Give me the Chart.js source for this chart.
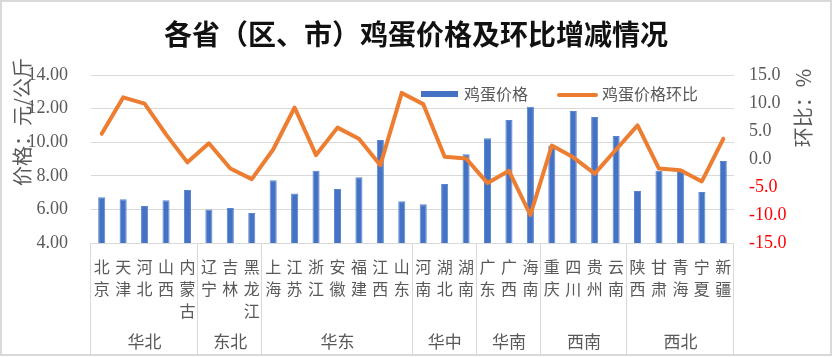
<!DOCTYPE html>
<html>
<head>
<meta charset="utf-8">
<script src="https://cdn.jsdelivr.net/npm/chart.js@4/dist/chart.umd.min.js"></script>
<style>
html,body{margin:0;padding:0;background:#fff;}
#wrap{width:833px;height:357px;}
</style>
</head>
<body>
<div id="wrap"><canvas id="c" width="833" height="357"></canvas></div>
<script>
const chartTitle = '各省（区、市）鸡蛋价格及环比增减情况';
const provinces = ['北京','天津','河北','山西','内蒙古','辽宁','吉林','黑龙江','上海','江苏','浙江','安徽','福建','江西','山东','河南','湖北','湖南','广东','广西','海南','重庆','四川','贵州','云南','陕西','甘肃','青海','宁夏','新疆'];
const regions = ['华北','东北','华东','华中','华南','西南','西北'];
const regionSizes = [5,3,7,3,3,4,5];
const eggPrice = [6.72,6.60,6.20,6.54,7.15,6.00,6.08,5.79,7.73,6.94,8.30,7.21,7.91,10.13,6.48,6.30,7.51,9.28,10.23,11.32,12.11,9.79,11.86,11.50,10.37,7.10,8.30,8.38,7.04,8.88];
const momChange = [4.5,11.0,9.9,4.4,-0.6,2.8,-1.7,-3.6,1.7,9.2,0.7,5.6,3.6,-1.1,11.8,9.8,0.4,0.1,-4.3,-2.1,-10.0,2.4,0.3,-2.6,1.7,6.0,-1.7,-2.0,-4.0,3.6];
const seriesNames = ['鸡蛋价格','鸡蛋价格环比'];
const leftAxisTitle = '价格：元/公斤';
const rightAxisTitle = '环比：%';

const CJK = '"Noto Sans CJK SC", "Noto Sans", sans-serif';
const NUM = '"Liberation Serif", serif';
const TXT = '#595959';
const BAR = '#4472C4';
const LINE = '#ED7D31';
const GRID = '#d9d9d9';

const deco = {
  id: 'deco',
  afterDatasetsDraw(chart) {
    const ctx = chart.ctx;
    const ca = chart.chartArea;
    const xs = chart.scales.x;
    ctx.save();
    // bottom axis line
    ctx.strokeStyle = GRID; ctx.lineWidth = 1;
    ctx.beginPath(); ctx.moveTo(ca.left, ca.bottom + 0.5); ctx.lineTo(ca.right, ca.bottom + 0.5); ctx.stroke();
    // group separators
    const bounds = [ca.left];
    let idx = 0;
    regionSizes.forEach(n => { idx += n; bounds.push(idx >= provinces.length ? ca.right : (xs.getPixelForValue(idx - 1) + xs.getPixelForValue(idx)) / 2); });
    ctx.beginPath();
    bounds.forEach(b => { const x = Math.round(b) - 0.5; ctx.moveTo(x, ca.bottom); ctx.lineTo(x, 355); });
    ctx.stroke();
    // group labels
    ctx.fillStyle = TXT; ctx.font = '17px ' + CJK; ctx.textAlign = 'center'; ctx.textBaseline = 'middle';
    regions.forEach((r, i) => { ctx.fillText(r, (bounds[i] + bounds[i + 1]) / 2, 342); });
    // title
    ctx.fillStyle = '#111'; ctx.font = 'bold 28px ' + CJK; ctx.textAlign = 'center';
    ctx.fillText(chartTitle, 416, 34);
    // axis titles
    ctx.fillStyle = TXT; ctx.font = '20px ' + CJK;
    ctx.save(); ctx.translate(22, 122); ctx.rotate(-Math.PI / 2); ctx.fillText(leftAxisTitle, 0, 0); ctx.restore();
    ctx.save(); ctx.translate(803, 108); ctx.rotate(-Math.PI / 2); ctx.fillText(rightAxisTitle, 0, 0); ctx.restore();
    // legend
    ctx.font = '16px ' + CJK; ctx.textAlign = 'left'; ctx.textBaseline = 'middle';
    ctx.fillStyle = BAR; ctx.fillRect(421, 91, 37, 6);
    ctx.fillStyle = TXT; ctx.fillText(seriesNames[0], 464, 94);
    ctx.strokeStyle = LINE; ctx.lineWidth = 4; ctx.lineCap = 'round';
    ctx.beginPath(); ctx.moveTo(559, 95); ctx.lineTo(596, 95); ctx.stroke();
    ctx.fillText(seriesNames[1], 602, 94);
    // outer border
    ctx.strokeStyle = GRID; ctx.lineWidth = 2; ctx.lineCap = 'butt';
    ctx.strokeRect(1, 1, 830, 354);
    ctx.restore();
  }
};

new Chart(document.getElementById('c'), {
  type: 'bar',
  data: {
    labels: provinces.map(p => p.split('')),
    datasets: [
      { type: 'line', label: seriesNames[1], data: momChange, yAxisID: 'y1', order: 0,
        borderColor: LINE, backgroundColor: LINE, borderWidth: 4, pointRadius: 0, tension: 0,
        borderJoinStyle: 'round', borderCapStyle: 'round', fill: false },
      { type: 'bar', label: seriesNames[0], data: eggPrice, yAxisID: 'y', order: 1,
        backgroundColor: BAR, borderColor: '#5a86cf', borderWidth: 1,
        categoryPercentage: 1, barPercentage: 0.33 }
    ]
  },
  options: {
    responsive: false, animation: false, devicePixelRatio: 1,
    layout: { padding: { top: 75, bottom: 0, left: 0, right: 0 } },
    plugins: { legend: { display: false }, title: { display: false }, tooltip: { enabled: false } },
    scales: {
      x: {
        grid: { display: false, drawTicks: false }, border: { display: false },
        ticks: { autoSkip: false, maxRotation: 0, minRotation: 0, padding: 13, color: TXT,
                 font: { family: CJK, size: 16, lineHeight: 1.375 } },
        afterFit(s) { s.height = 114; }
      },
      y: {
        position: 'left', min: 4, max: 14,
        grid: { color: GRID, lineWidth: 1, drawTicks: false }, border: { display: false },
        ticks: { stepSize: 2, padding: 23, color: TXT, font: { family: NUM, size: 18 },
                 callback: v => Number(v).toFixed(2) },
        afterFit(s) { s.width = 91; }
      },
      y1: {
        position: 'right', min: -15, max: 15,
        grid: { display: false, drawTicks: false }, border: { display: false },
        ticks: { stepSize: 5, padding: 15, font: { family: NUM, size: 18 },
                 color: c => (c.tick && c.tick.value < 0) ? '#ff0000' : TXT,
                 callback: v => Number(v).toFixed(1) },
        afterFit(s) { s.width = 99; }
      }
    }
  },
  plugins: [deco]
});
</script>
</body>
</html>
